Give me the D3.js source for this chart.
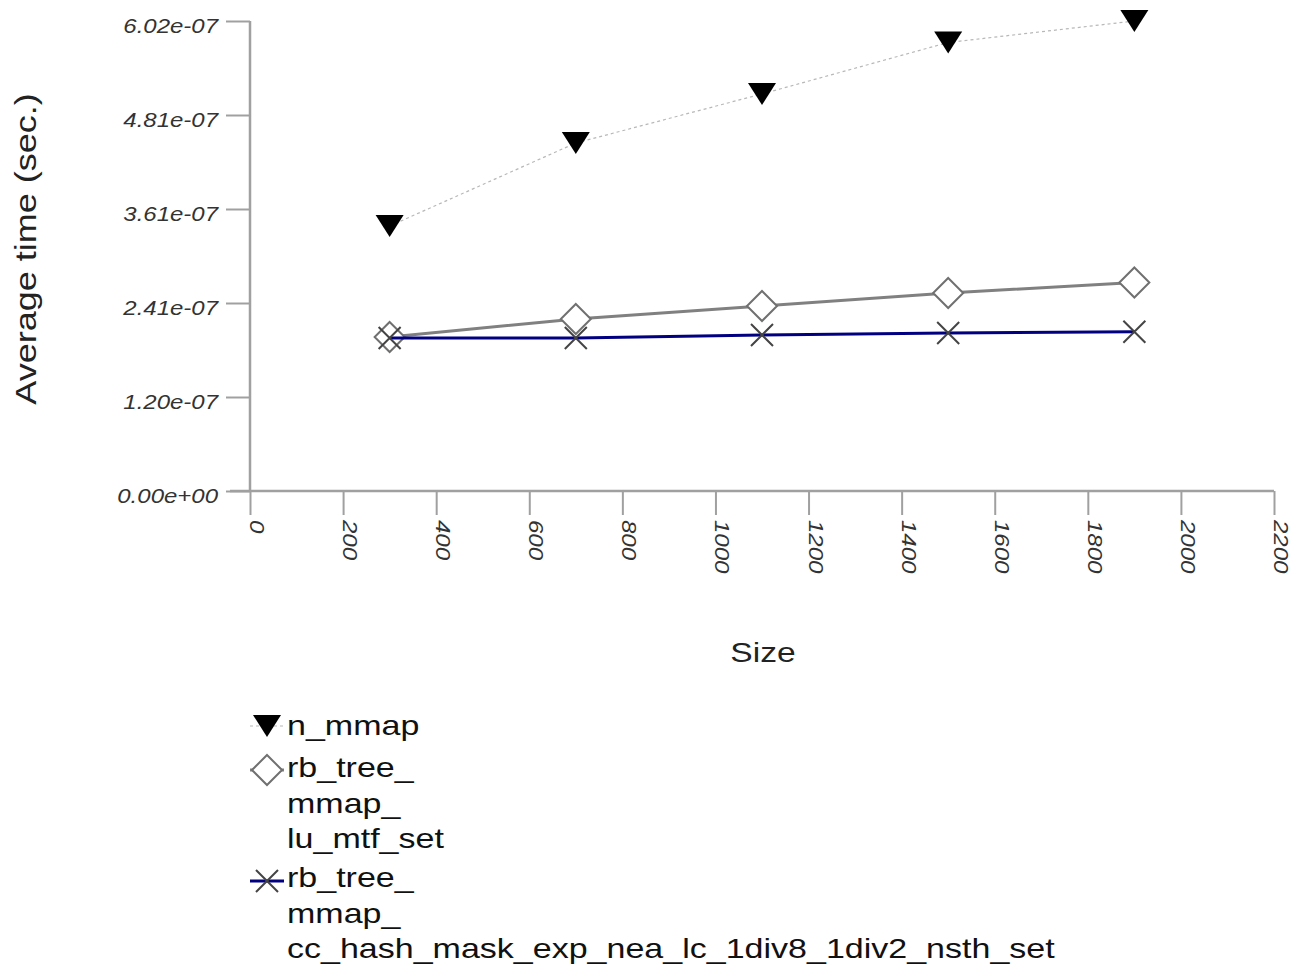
<!DOCTYPE html>
<html>
<head>
<meta charset="utf-8">
<script src="https://cdn.jsdelivr.net/npm/d3@7/dist/d3.min.js"></script>
<style>
  html, body { margin: 0; padding: 0; background: #fff; }
  svg { display: block; font-family: "Liberation Sans", Arial, sans-serif; }
</style>
</head>
<body>
<svg id="chart" width="1306" height="967"></svg>
<script>
// ---- data ----
const sizes = [300, 700, 1100, 1500, 1900];
const nMmap = [3.392e-7, 4.455e-7, 5.083e-7, 5.742e-7, 6.017e-7];
const rbLuMtf = [1.972e-7, 2.202e-7, 2.368e-7, 2.535e-7, 2.669e-7];
const rbCcHash = [1.959e-7, 1.959e-7, 1.997e-7, 2.023e-7, 2.039e-7];
const yMax = 6.017e-7;
const yTickValues = [0, 1.2034e-7, 2.4068e-7, 3.6102e-7, 4.8136e-7, 6.017e-7];
const yTickLabels = ["0.00e+00", "1.20e-07", "2.41e-07", "3.61e-07", "4.81e-07", "6.02e-07"];
const xTickValues = [0, 200, 400, 600, 800, 1000, 1200, 1400, 1600, 1800, 2000, 2200];
const legendNames = [
  ["n_mmap"],
  ["rb_tree_", "mmap_", "lu_mtf_set"],
  ["rb_tree_", "mmap_", "cc_hash_mask_exp_nea_lc_1div8_1div2_nsth_set"]
];

const svg = d3.select("#chart");
const x = d3.scaleLinear().domain([0, 2200]).range([250, 1274]);
const y = d3.scaleLinear().domain([0, yMax]).range([491, 21]);

const axisColor = "#a0a0a0";
const textStretch = 1.2;

// ---- axes ----
const xAxis = svg.append("g").attr("transform", `translate(0,${y(0)})`)
  .call(d3.axisBottom(x).tickValues(xTickValues).tickSize(24).tickFormat(""));
xAxis.select(".domain").remove();
xAxis.selectAll(".tick line").attr("stroke", axisColor).attr("stroke-width", 2);
svg.append("line").attr("x1", x(0) - 20).attr("x2", x(2200)).attr("y1", y(0)).attr("y2", y(0))
  .attr("stroke", axisColor).attr("stroke-width", 2.5);

const yAxis = svg.append("g").attr("transform", `translate(${x(0)},0)`)
  .call(d3.axisLeft(y).tickValues(yTickValues).tickSize(24).tickFormat(""));
yAxis.select(".domain").remove();
yAxis.selectAll(".tick line").attr("stroke", axisColor).attr("stroke-width", 2);
svg.append("line").attr("x1", x(0)).attr("x2", x(0)).attr("y1", y(yMax)).attr("y2", y(0))
  .attr("stroke", axisColor).attr("stroke-width", 2.5);

// y tick labels
svg.append("g").selectAll("text").data(yTickValues).join("text")
  .attr("transform", d => `translate(${x(0) - 32},${y(d) + 12}) scale(${textStretch},1)`)
  .attr("text-anchor", "end")
  .attr("font-size", 20).attr("font-style", "italic").attr("fill", "#333")
  .text((d, i) => yTickLabels[i]);

// x tick labels (rotated)
svg.append("g").selectAll("text").data(xTickValues).join("text")
  .attr("transform", d => `translate(${x(d)},520) rotate(90) scale(${textStretch},1)`)
  .attr("text-anchor", "start")
  .attr("font-size", 20).attr("font-style", "italic").attr("fill", "#333")
  .text(d => d);

// axis titles
svg.append("text")
  .attr("transform", `translate(36,249) rotate(-90) scale(${textStretch},1)`)
  .attr("text-anchor", "middle").attr("font-size", 30).attr("fill", "#222")
  .text("Average time (sec.)");
svg.append("text")
  .attr("transform", `translate(763,662) scale(${textStretch},1)`)
  .attr("text-anchor", "middle").attr("font-size", 28).attr("fill", "#222")
  .text("Size");

// ---- marker drawers ----
function triangle(g, cx, cy) {
  g.append("path").attr("d", `M${cx - 14},${cy - 11}L${cx + 14},${cy - 11}L${cx},${cy + 11}Z`)
    .attr("fill", "#000");
}
function diamond(g, cx, cy) {
  g.append("path").attr("d", `M${cx},${cy - 15}L${cx + 15},${cy}L${cx},${cy + 15}L${cx - 15},${cy}Z`)
    .attr("fill", "#fff").attr("stroke", "#707070").attr("stroke-width", 2);
}
function cross(g, cx, cy) {
  g.append("path").attr("d", `M${cx - 11},${cy - 11}L${cx + 11},${cy + 11}M${cx + 11},${cy - 11}L${cx - 11},${cy + 11}`)
    .attr("stroke", "#444").attr("stroke-width", 2);
}

const series = [
  { vals: nMmap, color: "#b8b8b8", width: 1.2, dash: "3,3", marker: triangle },
  { vals: rbLuMtf, color: "#808080", width: 3, dash: null, marker: diamond },
  { vals: rbCcHash, color: "#000080", width: 3, dash: null, marker: cross }
];

const line = d3.line().x(d => x(d[0])).y(d => y(d[1]));
series.forEach(s => {
  const g = svg.append("g");
  const pts = sizes.map((sz, i) => [sz, s.vals[i]]);
  g.append("path").attr("d", line(pts)).attr("fill", "none")
    .attr("stroke", s.color).attr("stroke-width", s.width)
    .attr("stroke-dasharray", s.dash);
  pts.forEach(p => s.marker(g, x(p[0]), y(p[1])));
});

// ---- legend ----
const legendTop = [735, 777, 887];
const lineGap = 35.5;
const legendMarkerY = [726, 770, 881];
const lg = svg.append("g");
series.forEach((s, i) => {
  const my = legendMarkerY[i];
  lg.append("line").attr("x1", 250).attr("x2", 284).attr("y1", my).attr("y2", my)
    .attr("stroke", s.color).attr("stroke-width", s.width).attr("stroke-dasharray", s.dash);
  s.marker(lg, 267, my);
  legendNames[i].forEach((t, j) => {
    lg.append("text")
      .attr("transform", `translate(287,${legendTop[i] + j * lineGap}) scale(1.26,1)`)
      .attr("font-size", 27).attr("fill", "#111")
      .text(t);
  });
});
</script>
</body>
</html>
